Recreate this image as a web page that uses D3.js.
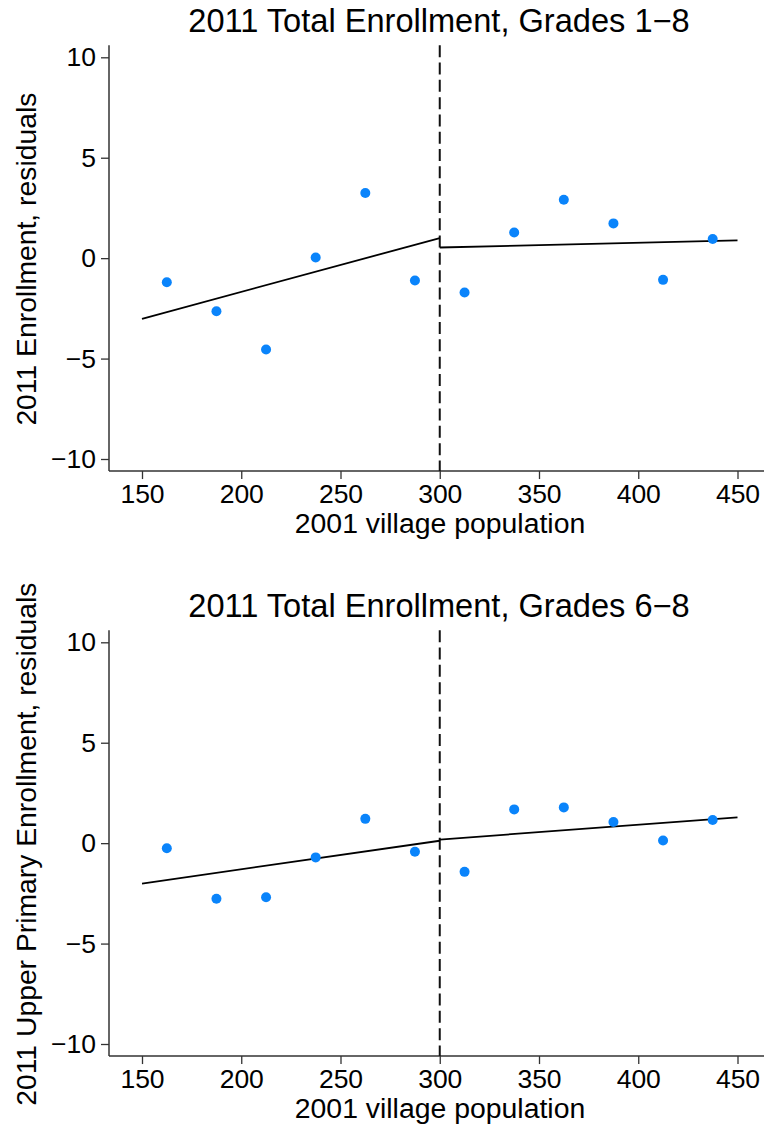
<!DOCTYPE html>
<html>
<head>
<meta charset="utf-8">
<script src="https://cdn.jsdelivr.net/npm/d3@7"></script>
<style>
  html, body { margin: 0; padding: 0; background: #fff; }
  svg { display: block; font-family: "Liberation Sans", Arial, Helvetica, sans-serif; }
</style>
</head>
<body>
<svg id="chart" width="764" height="1127"></svg>
<script>
// Bin midpoints of 2001 village population (25-person bins)
const binCenters = [162.5, 187.5, 212.5, 237.5, 262.5, 287.5, 312.5, 337.5, 362.5, 387.5, 412.5, 437.5];

// Binned residual means, grades 1-8
const enrollAll = [-1.20, -2.64, -4.55, 0.03, 3.24, -1.11, -1.71, 1.28, 2.91, 1.73, -1.08, 0.95];
// Linear fits on each side of the 300 cutoff, grades 1-8
const fitAllLeft  = [[150, -3.02], [300, 1.00]];
const fitAllRight = [[300, 0.53], [450, 0.88]];

// Binned residual means, grades 6-8
const enrollUpper = [-0.25, -2.77, -2.69, -0.71, 1.21, -0.43, -1.43, 1.68, 1.78, 1.05, 0.13, 1.15];
// Linear fits on each side of the 300 cutoff, grades 6-8
const fitUpperLeft  = [[150, -2.01], [300, 0.12]];
const fitUpperRight = [[300, 0.18], [450, 1.28]];

const cutoff = 300;
const xTicks = [150, 200, 250, 300, 350, 400, 450];
const yTicks = [-10, -5, 0, 5, 10];

const titles = ["2011 Total Enrollment, Grades 1\u22128", "2011 Total Enrollment, Grades 6\u22128"];
const yTitles = ["2011 Enrollment, residuals", "2011 Upper Primary Enrollment, residuals"];
const xTitle = "2001 village population";

const svg = d3.select("#chart");

// Shared horizontal scale
const x = d3.scaleLinear().domain([150, 450]).range([142.0, 737.5]);
const plotLeft = 109, plotRight = 764;

function drawPanel(offset, values, fitL, fitR, title, yTitle) {
  const g = svg.append("g").attr("transform", `translate(0,${offset})`);
  const y = d3.scaleLinear().domain([10, -10]).range([57.3, 459]);
  const plotTop = y(10.6), plotBottom = y(-10.6);

  // Title
  g.append("text")
    .attr("x", 439).attr("y", 32)
    .attr("text-anchor", "middle")
    .attr("font-size", 32.6)
    .attr("fill", "#000")
    .text(title);

  // Y axis
  const yAxis = g.append("g")
    .attr("transform", `translate(${plotLeft},0)`)
    .call(d3.axisLeft(y).tickValues(yTicks).tickSize(8).tickSizeOuter(0).tickPadding(5));
  yAxis.select(".domain").remove();
  yAxis.selectAll(".tick line").attr("stroke", "#333").attr("stroke-width", 1.3);
  yAxis.selectAll(".tick text").attr("font-size", 26.5).attr("fill", "#000")
    .attr("font-family", "Liberation Sans, Arial, sans-serif");
  g.append("line")
    .attr("x1", plotLeft).attr("x2", plotLeft)
    .attr("y1", plotTop).attr("y2", plotBottom)
    .attr("stroke", "#333").attr("stroke-width", 1.5);

  // X axis
  const xAxis = g.append("g")
    .attr("transform", `translate(0,${plotBottom})`)
    .call(d3.axisBottom(x).tickValues(xTicks).tickSize(8).tickSizeOuter(0).tickPadding(5));
  xAxis.select(".domain").remove();
  xAxis.selectAll(".tick line").attr("stroke", "#333").attr("stroke-width", 1.3);
  xAxis.selectAll(".tick text").attr("font-size", 26.5).attr("fill", "#000")
    .attr("font-family", "Liberation Sans, Arial, sans-serif");
  g.append("line")
    .attr("x1", plotLeft).attr("x2", plotRight)
    .attr("y1", plotBottom).attr("y2", plotBottom)
    .attr("stroke", "#333").attr("stroke-width", 1.5);

  // Axis titles
  g.append("text")
    .attr("x", 440).attr("y", 533)
    .attr("text-anchor", "middle")
    .attr("font-size", 28.4)
    .attr("fill", "#000")
    .text(xTitle);
  g.append("text")
    .attr("transform", `translate(36,${(plotTop + plotBottom) / 2 + 1}) rotate(-90)`)
    .attr("text-anchor", "middle")
    .attr("font-size", 28.3)
    .attr("fill", "#000")
    .text(yTitle);

  // Cutoff line
  g.append("line")
    .attr("x1", x(cutoff)).attr("x2", x(cutoff))
    .attr("y1", plotTop).attr("y2", plotBottom)
    .attr("stroke", "#111").attr("stroke-width", 2)
    .attr("stroke-dasharray", "12,5.3");

  // Fitted lines
  const line = d3.line().x(d => x(d[0])).y(d => y(d[1]));
  [fitL, fitR].forEach(seg => {
    g.append("path")
      .attr("d", line(seg))
      .attr("fill", "none")
      .attr("stroke", "#000")
      .attr("stroke-width", 1.8);
  });

  // Binned means
  g.selectAll("circle.pt")
    .data(binCenters.map((c, i) => [c, values[i]]))
    .join("circle")
    .attr("class", "pt")
    .attr("cx", d => x(d[0]))
    .attr("cy", d => y(d[1]))
    .attr("r", 5)
    .attr("fill", "#0a84fb");
}

drawPanel(0, enrollAll, fitAllLeft, fitAllRight, titles[0], yTitles[0]);
drawPanel(585, enrollUpper, fitUpperLeft, fitUpperRight, titles[1], yTitles[1]);
</script>
</body>
</html>
